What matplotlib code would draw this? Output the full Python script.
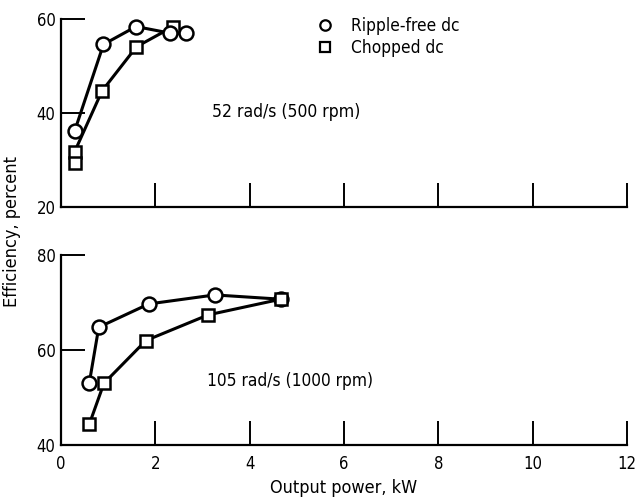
import matplotlib
matplotlib.use('Agg')
import matplotlib.pyplot as plt
from matplotlib.lines import Line2D

plt.rcParams['font.family'] = ['DejaVu Sans']
plt.rcParams['font.stretch'] = 'condensed'

# 52 rad/s (500 rpm)
slow_free_kw = [0.29, 0.90, 1.59, 2.31, 2.64]
slow_free_eff = [36.2, 54.6, 58.4, 57.0, 57.0]
slow_chop_kw = [0.29, 0.29, 0.87, 1.60, 2.38]
slow_chop_eff = [29.3, 31.8, 44.7, 54.1, 58.4]

# 105 rad/s (1000 rpm)
fast_free_kw = [0.60, 0.80, 1.86, 3.26, 4.66]
fast_free_eff = [53.1, 64.8, 69.7, 71.6, 70.7]
fast_chop_kw = [0.60, 0.91, 1.80, 3.12, 4.66]
fast_chop_eff = [44.4, 53.0, 62.0, 67.4, 70.7]

x_ticks = [0, 2, 4, 6, 8, 10, 12]
slow_yticks = [20, 40, 60]
fast_yticks = [40, 60, 80]

fig = plt.figure(figsize=(6.37, 4.98), dpi=100)
ax_top = fig.add_axes([0.0958, 0.5843, 0.8885, 0.3775])
ax_bot = fig.add_axes([0.0958, 0.1064, 0.8885, 0.3815])

line_kw = dict(color='black', lw=2.2, mfc='white', mec='black', mew=1.8, clip_on=False)


def style(ax, yticks):
    for s in ['top', 'right']:
        ax.spines[s].set_visible(False)
    for s in ['left', 'bottom']:
        ax.spines[s].set_linewidth(1.6)
    ax.set_xlim(0, 12)
    ax.set_ylim(yticks[0], yticks[-1])
    ax.set_xticks(x_ticks)
    ax.set_yticks(yticks)
    ax.tick_params(direction='in', length=17, width=1.4, labelsize=12)
    ax.tick_params(axis='x', pad=7)
    ax.tick_params(axis='y', pad=4)


style(ax_top, slow_yticks)
style(ax_bot, fast_yticks)
ax_top.tick_params(axis='x', labelbottom=False)

ax_top.plot(slow_free_kw, slow_free_eff, marker='o', ms=10, zorder=3, **line_kw)
ax_top.plot(slow_chop_kw[1:], slow_chop_eff[1:], marker='s', ms=9, zorder=2, **line_kw)
ax_top.plot(slow_chop_kw[:1], slow_chop_eff[:1], ls='none', marker='s', ms=9, zorder=2, **line_kw)

ax_bot.plot(fast_free_kw, fast_free_eff, marker='o', ms=10, zorder=2, **line_kw)
ax_bot.plot(fast_chop_kw, fast_chop_eff, marker='s', ms=9, zorder=3, **line_kw)

ax_top.text(3.2, 40.2, '52 rad/s (500 rpm)', fontsize=12.6, va='center')
ax_bot.text(3.1, 53.4, '105 rad/s (1000 rpm)', fontsize=12.4, va='center')

handles = [
    Line2D([], [], ls='none', marker='o', ms=7.5, mfc='white', mec='black', mew=1.6),
    Line2D([], [], ls='none', marker='s', ms=7.5, mfc='white', mec='black', mew=1.6),
]
ax_top.legend(handles, ['Ripple-free dc', 'Chopped dc'], loc='upper left',
              bbox_to_anchor=(0.452, 1.01), frameon=False, fontsize=12.4,
              handlelength=1.0, handletextpad=1.0, labelspacing=0.2,
              borderpad=0, borderaxespad=0)

fig.text(0.019, 0.535, 'Efficiency, percent', rotation=90, fontsize=13,
         ha='center', va='center')
fig.text(0.539, 0.021, 'Output power, kW', fontsize=13, ha='center', va='center')

fig.savefig('out.png', dpi=100)
